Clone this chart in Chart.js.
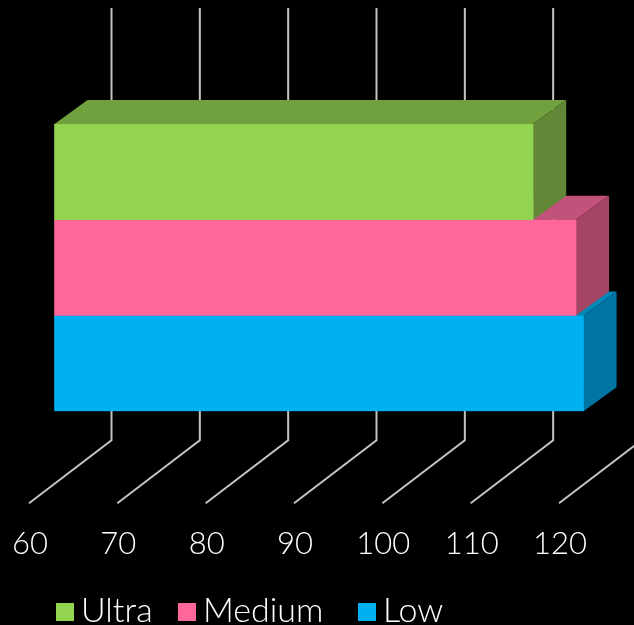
<!DOCTYPE html>
<html>
<head>
<meta charset="utf-8">
<script src="https://cdnjs.cloudflare.com/ajax/libs/Chart.js/4.4.1/chart.umd.js"></script>
<style>
html, body { margin: 0; padding: 0; background: #000; overflow: hidden; }
#wrap { width: 634px; height: 625px; }
</style>
</head>
<body>
<div id="wrap"><canvas id="myChart"></canvas></div>
<script>
var categories = ['FPS'];
var seriesNames = ['Ultra', 'Medium', 'Low'];
var ultraValues = [114.25];
var mediumValues = [119.1];
var lowValues = [119.95];
var frontColors = ['#92d350', '#ff6699', '#00b0f0'];
var topColors = ['#71a03e', '#c1527b', '#0088b9'];
var sideColors = ['#628736', '#a64465', '#0075a1'];

// fake 3d depth of the box, in px
var barDepthX = 33, barDepthY = 24;
// legend swatch left edges, the gap after a swatch is tighter than the built in legend allows
var legendX = [56, 178, 358];

var box3d = {
    id: 'box3d',
    beforeDatasetsDraw: function(chart) {
        var ctx = chart.ctx, area = chart.chartArea, xScale = chart.scales.x;
        // bent grid lines: back wall, then the floor
        ctx.save();
        ctx.strokeStyle = '#c4c4c4';
        ctx.lineWidth = 2;
        xScale.ticks.forEach(function(t) {
            var x = xScale.getPixelForValue(t.value);
            ctx.beginPath();
            ctx.moveTo(x + 57.5, area.top - 116);
            ctx.lineTo(x + 57.5, area.bottom + 29);
            ctx.lineTo(x - 25, area.bottom + 92);
            ctx.stroke();
        });
        // bottom bar first so upper side faces cover the lower top faces
        for (var i = 2; i >= 0; i--) {
            var bar = chart.getDatasetMeta(i).data[0];
            var top = bar.y - bar.height / 2, bottom = bar.y + bar.height / 2;
            ctx.fillStyle = topColors[i];
            ctx.beginPath();
            ctx.moveTo(bar.base, top);
            ctx.lineTo(bar.base + barDepthX, top - barDepthY);
            ctx.lineTo(bar.x + barDepthX, top - barDepthY);
            ctx.lineTo(bar.x, top);
            ctx.closePath();
            ctx.fill();
            ctx.fillStyle = sideColors[i];
            ctx.beginPath();
            ctx.moveTo(bar.x, top);
            ctx.lineTo(bar.x + barDepthX, top - barDepthY);
            ctx.lineTo(bar.x + barDepthX, bottom - barDepthY);
            ctx.lineTo(bar.x, bottom);
            ctx.closePath();
            ctx.fill();
        }
        ctx.restore();
    },
    afterDraw: function(chart) {
        var ctx = chart.ctx;
        ctx.save();
        ctx.font = '300 34px Lato';
        ctx.textBaseline = 'alphabetic';
        chart.data.datasets.forEach(function(ds, i) {
            ctx.fillStyle = ds.backgroundColor;
            ctx.fillRect(legendX[i], 603, 18, 18);
            ctx.fillStyle = '#ffffff';
            ctx.fillText(ds.label, legendX[i] + 25, 622);
        });
        ctx.restore();
    }
};

var ctx = document.getElementById('myChart');
var myChart = new Chart(ctx, {
    type: 'bar',
    data: {
        labels: categories,
        datasets: [
            { label: seriesNames[0], data: ultraValues, backgroundColor: frontColors[0] },
            { label: seriesNames[1], data: mediumValues, backgroundColor: frontColors[1] },
            { label: seriesNames[2], data: lowValues, backgroundColor: frontColors[2] }
        ]
    },
    options: {
        indexAxis: 'y',
        responsive: true,
        maintainAspectRatio: false,
        animation: false,
        base: 60,
        layout: { padding: { left: 54, right: 50, top: 124, bottom: 62.5 } },
        datasets: { bar: { barPercentage: 1, categoryPercentage: 1, borderWidth: 0 } },
        scales: {
            x: {
                min: 60,
                max: 120,
                grid: { drawOnChartArea: false, tickLength: 114, tickColor: 'rgba(0,0,0,0)' },
                border: { display: false },
                ticks: {
                    stepSize: 10,
                    autoSkip: false,
                    maxRotation: 0,
                    labelOffset: -24,
                    padding: 0,
                    color: '#ffffff',
                    font: { family: 'Lato', size: 31, weight: '300' }
                }
            },
            y: { display: false }
        },
        plugins: {
            tooltip: { enabled: false },
            legend: { display: false }
        }
    },
    plugins: [box3d]
});
</script>
</body>
</html>
